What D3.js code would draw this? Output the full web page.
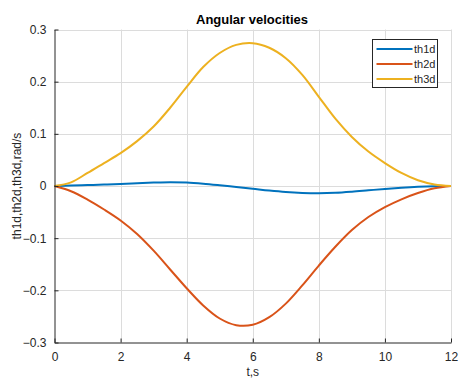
<!DOCTYPE html>
<html>
<head>
<meta charset="utf-8">
<script src="https://cdn.jsdelivr.net/npm/d3@7"></script>
<style>
  html, body { margin: 0; padding: 0; background: #fff; }
  svg { display: block; font-family: "Liberation Sans", Arial, sans-serif; }
</style>
</head>
<body>
<svg id="chart" width="461" height="379"></svg>
<script>
// Sample times (s)
const time = [0, 0.5, 1, 1.5, 2, 2.5, 3, 3.5, 4, 4.5, 5, 5.5, 6, 6.5, 7, 7.5, 8, 8.5, 9, 9.5, 10, 10.5, 11, 11.5, 12];

// Joint angular velocities (rad/s)
const th1d = [0, 0.0008, 0.0018, 0.0028, 0.0039, 0.0052, 0.0065, 0.0073, 0.0066, 0.0044, 0.0014, -0.0019, -0.0053, -0.0088, -0.0116, -0.0133, -0.0139, -0.0131, -0.0110, -0.0083, -0.0056, -0.0033, -0.0015, -0.0004, 0];
const th2d = [0, -0.010, -0.026, -0.045, -0.066, -0.092, -0.124, -0.160, -0.196, -0.229, -0.254, -0.2668, -0.2660, -0.2515, -0.2255, -0.1905, -0.1525, -0.1165, -0.0845, -0.0595, -0.0405, -0.0255, -0.0135, -0.0045, 0];
const th3d = [0, 0.007, 0.025, 0.044, 0.063, 0.086, 0.114, 0.150, 0.190, 0.228, 0.255, 0.2705, 0.2738, 0.265, 0.245, 0.213, 0.171, 0.129, 0.094, 0.066, 0.044, 0.025, 0.011, 0.003, 0];

const seriesNames = ["th1d", "th2d", "th3d"];
const seriesColors = ["#0072BD", "#D95319", "#EDB120"];

const xTicks = [0, 2, 4, 6, 8, 10, 12];
const yTicks = [-0.3, -0.2, -0.1, 0, 0.1, 0.2, 0.3];

const titleText = "Angular velocities";
const xLabelText = "t,s";
const yLabelText = "th1d,th2d,th3d,rad/s";

const svg = d3.select("#chart");
const plot = { left: 54.5, right: 451, top: 29.5, bottom: 342.5 };

const x = d3.scaleLinear().domain([0, 12]).range([plot.left, plot.right]);
const y = d3.scaleLinear().domain([-0.3, 0.3]).range([plot.bottom, plot.top]);

const axisColor = "#262626";
const gridColor = "#dcdcdc";

// Grid
const grid = svg.append("g");
grid.selectAll("line.gx").data(xTicks.filter(d => d !== 0)).join("line")
  .attr("x1", d => Math.round(x(d)) + 0.5).attr("x2", d => Math.round(x(d)) + 0.5)
  .attr("y1", plot.top).attr("y2", plot.bottom)
  .attr("stroke", gridColor).attr("stroke-width", 1);
grid.selectAll("line.gy").data(yTicks.filter(d => d !== -0.3)).join("line")
  .attr("y1", d => Math.round(y(d)) + 0.5).attr("y2", d => Math.round(y(d)) + 0.5)
  .attr("x1", plot.left).attr("x2", plot.right)
  .attr("stroke", gridColor).attr("stroke-width", 1);

// Curves
const seriesData = [th1d, th2d, th3d];
const line = d3.line()
  .x((d, i) => x(time[i]))
  .y(d => y(d))
  .curve(d3.curveCatmullRom.alpha(0.5));

svg.append("g").selectAll("path").data(seriesData).join("path")
  .attr("d", d => line(d))
  .attr("fill", "none")
  .attr("stroke", (d, i) => seriesColors[i])
  .attr("stroke-width", 2)
  .attr("stroke-linejoin", "round");

// Axes
const xAxis = d3.axisBottom(x).tickValues(xTicks).tickFormat(d3.format("d"))
  .tickSizeInner(-4).tickSizeOuter(0).tickPadding(10);
const yAxis = d3.axisLeft(y).tickValues(yTicks).tickFormat(d => d === 0 ? "0" : d3.format(".1f")(d))
  .tickSizeInner(-4).tickSizeOuter(0).tickPadding(8);

const gx = svg.append("g").attr("transform", `translate(0,${plot.bottom})`).call(xAxis);
const gy = svg.append("g").attr("transform", `translate(${plot.left},0)`).call(yAxis);
[gx, gy].forEach(g => {
  g.select(".domain").attr("stroke", axisColor).attr("stroke-width", 1);
  g.selectAll(".tick line").attr("stroke", axisColor);
  g.selectAll(".tick text").attr("fill", axisColor)
    .style("font-family", "'Liberation Sans', Arial, sans-serif").style("font-size", "12px");
});

// Title and axis labels
svg.append("text").attr("x", 252).attr("y", 23.5)
  .attr("text-anchor", "middle").attr("font-weight", "bold").attr("font-size", 13)
  .attr("fill", "#000").text(titleText);
svg.append("text").attr("x", (plot.left + plot.right) / 2).attr("y", 376)
  .attr("text-anchor", "middle").attr("font-size", 12).attr("fill", axisColor).text(xLabelText);
svg.append("text")
  .attr("transform", `translate(21,${(plot.top + plot.bottom) / 2}) rotate(-90)`)
  .attr("text-anchor", "middle").attr("font-size", 12).attr("fill", axisColor).text(yLabelText);

// Legend
const legend = svg.append("g").attr("transform", "translate(372.5,39.5)");
legend.append("rect").attr("width", 65).attr("height", 48)
  .attr("fill", "#fff").attr("stroke", axisColor).attr("stroke-width", 1);
const rows = legend.selectAll("g.row").data(seriesNames).join("g")
  .attr("transform", (d, i) => `translate(0,${9.5 + i * 15})`);
rows.append("line").attr("x1", 4).attr("x2", 40).attr("y1", 0).attr("y2", 0)
  .attr("stroke", (d, i) => seriesColors[i]).attr("stroke-width", 2);
rows.append("text").attr("x", 41.5).attr("y", 4).attr("font-size", 11)
  .attr("fill", axisColor).text(d => d);
</script>
</body>
</html>
